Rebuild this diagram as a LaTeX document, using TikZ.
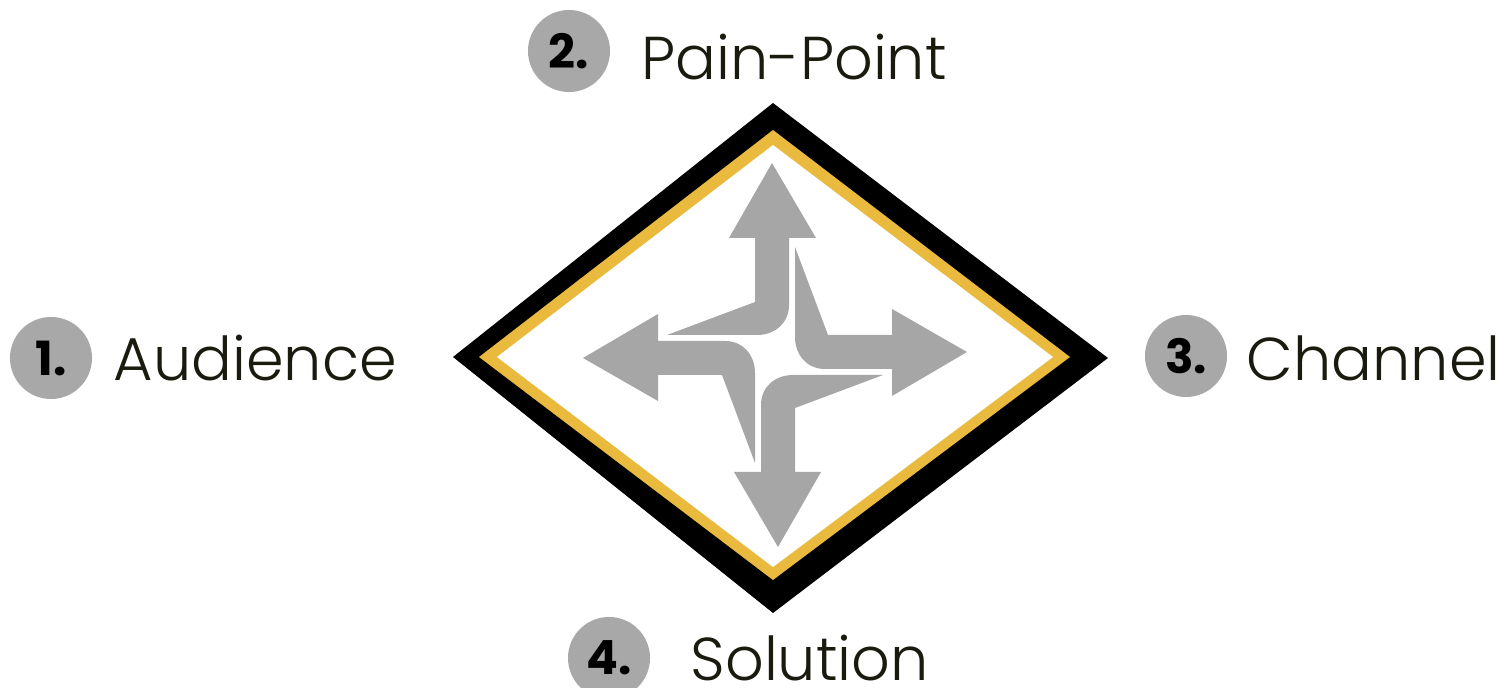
\documentclass[tikz,border=0pt]{standalone}
\usepackage{fontspec}
\setmainfont{Poppins}
\newfontfamily\lightfont{Poppins Light}
\usepackage{tikz}
\usetikzlibrary{positioning, calc}
\definecolor{mydark}{RGB}{27,26,14}
\definecolor{mygold}{RGB}{233,186,62}
\definecolor{mygray}{RGB}{166,166,166}
\definecolor{badgegray}{RGB}{168,168,168}
\tikzset{
  badge/.style={circle, fill=badgegray, minimum size=0.82cm, inner sep=0pt,
    font=\fontsize{13.4}{15}\selectfont\bfseries, text=black},
  steplabel/.style={anchor=base west, inner sep=0pt, text=mydark,
    font=\lightfont\fontsize{17.2}{20}\selectfont},
  pinarrow/.style={fill=mygray}
}
\begin{document}
\begin{tikzpicture}[x=0.01cm, y=-0.01cm]
  \useasboundingbox (0,0) rectangle (1499,688);

  % frame: black, gold band, white inside
  \fill[black] (453,357) -- (773,103) -- (1108,358) -- (773,613) -- cycle;
  \fill[mygold] (479,357) -- (773,130) -- (1070,357) -- (773,580) -- cycle;
  \fill[white] (497,357) -- (773,145) -- (1053,357) -- (773,567) -- cycle;

  % four bent arrows
  \foreach \ang in {0,90,180,270} {
    \begin{scope}[shift={(775,355)}, rotate=\ang]
      \fill[pinarrow] (-3,-192) -- (41,-117) -- (14,-117) -- (14,-50)
        .. controls (14,-32) and (0,-20) .. (-18,-20)
        -- (-108,-20) -- (-20,-53) -- (-20,-117) -- (-46,-117) -- cycle;
    \end{scope}
  }

  % badges and labels
  \node[badge] (b1) at (51,358) {1.};
  \node[badge] (b2) at (569,51) {2.};
  \node[badge] (b3) at (1186,356) {3.};
  \node[badge] (b4) at (609,658) {4.};

  \node[steplabel] (t1) at (113,380) {Audience};
  \node[steplabel] (t2) at (641,80) {Pain-Point};
  \node[steplabel] (t3) at (1246,380) {Channel};
  \node[steplabel] (t4) at (690,680) {Solution};
\end{tikzpicture}
\end{document}
